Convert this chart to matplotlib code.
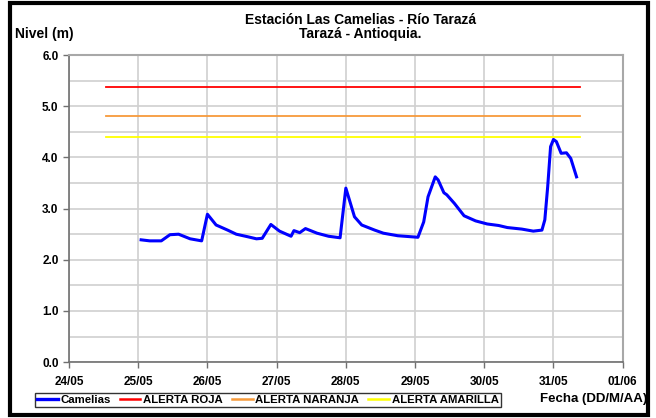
import matplotlib
matplotlib.use("Agg")
import matplotlib.pyplot as plt
import matplotlib.dates as mdates
from matplotlib.patches import Rectangle
import pandas as pd

plt.rcParams['font.family'] = ['Liberation Sans', 'DejaVu Sans']
plt.rcParams['font.weight'] = 'bold'

# ---- data ----
times = ["2008-05-25 01:00", "2008-05-25 04:00", "2008-05-25 08:00", "2008-05-25 11:00",
         "2008-05-25 14:00", "2008-05-25 18:00", "2008-05-25 22:00", "2008-05-26 00:00",
         "2008-05-26 03:00", "2008-05-26 07:00", "2008-05-26 10:00", "2008-05-26 14:00",
         "2008-05-26 17:00", "2008-05-26 19:00", "2008-05-26 22:00", "2008-05-27 01:00",
         "2008-05-27 05:00", "2008-05-27 06:00", "2008-05-27 08:00", "2008-05-27 10:00",
         "2008-05-27 14:00", "2008-05-27 18:00", "2008-05-27 22:00", "2008-05-28 00:00",
         "2008-05-28 03:00", "2008-05-28 05:30", "2008-05-28 10:00", "2008-05-28 13:00",
         "2008-05-28 18:00", "2008-05-29 01:00", "2008-05-29 03:00", "2008-05-29 04:30",
         "2008-05-29 07:00", "2008-05-29 08:00", "2008-05-29 10:00", "2008-05-29 11:00",
         "2008-05-29 13:40", "2008-05-29 17:00", "2008-05-29 21:00", "2008-05-30 01:00",
         "2008-05-30 05:00", "2008-05-30 08:00", "2008-05-30 13:00", "2008-05-30 17:00",
         "2008-05-30 20:00", "2008-05-30 21:00", "2008-05-30 22:00", "2008-05-30 23:00",
         "2008-05-31 00:00", "2008-05-31 01:00", "2008-05-31 02:40", "2008-05-31 04:30",
         "2008-05-31 06:00", "2008-05-31 08:00"]
nivel = [2.39, 2.37, 2.37, 2.49, 2.50, 2.41, 2.37, 2.89,
         2.68, 2.58, 2.50, 2.45, 2.41, 2.42, 2.69, 2.56,
         2.46, 2.57, 2.53, 2.61, 2.52, 2.46, 2.43, 3.40,
         2.84, 2.68, 2.58, 2.52, 2.47, 2.44, 2.74, 3.23,
         3.62, 3.56, 3.31, 3.27, 3.10, 2.86, 2.76, 2.70,
         2.67, 2.63, 2.60, 2.56, 2.58, 2.78, 3.43, 4.21,
         4.35, 4.31, 4.08, 4.09, 3.98, 3.62]
alert_times = ["2008-05-24 12:50", "2008-05-31 09:20"]
alerta_roja = 5.38
alerta_naranja = 4.80
alerta_amarilla = 4.40
x_ticks = pd.date_range("2008-05-24", "2008-06-01", freq="D")

t = pd.to_datetime(times)
ta = pd.to_datetime(alert_times)

fig = plt.figure(figsize=(6.56, 4.18), dpi=100)
ax = fig.add_axes([0.1052, 0.1335, 0.8440, 0.7349])

l_cam, = ax.plot(t, nivel, color='#0000FF', lw=2.2, label='Camelias', zorder=5)
l_roja, = ax.plot(ta, [alerta_roja] * 2, color='#FF0000', lw=1.3, label='ALERTA ROJA')
l_nar, = ax.plot(ta, [alerta_naranja] * 2, color='#F79A3A', lw=1.3, label='ALERTA NARANJA')
l_ama, = ax.plot(ta, [alerta_amarilla] * 2, color='#FFFF00', lw=1.3, label='ALERTA AMARILLA')

ax.set_xlim(x_ticks[0], x_ticks[-1])
ax.set_ylim(0, 6)
ax.set_xticks(x_ticks)
ax.xaxis.set_major_formatter(mdates.DateFormatter('%d/%m'))
ax.set_yticks([0, 1, 2, 3, 4, 5, 6])
ax.set_yticks([0.5, 1.5, 2.5, 3.5, 4.5, 5.5], minor=True)
ax.yaxis.set_major_formatter(matplotlib.ticker.FormatStrFormatter('%.1f'))
ax.grid(True, which='both', color='#D0D0D0', lw=1.2)
ax.set_axisbelow(True)
ax.tick_params(axis='both', which='major', labelsize=8.5, length=4, width=1, color='#707070')
ax.tick_params(axis='y', which='minor', length=0)
ax.tick_params(axis='x', pad=6)
for lab in ax.get_xticklabels() + ax.get_yticklabels():
    lab.set_fontweight('bold')
for s in ['left', 'bottom']:
    ax.spines[s].set_color('#707070')
    ax.spines[s].set_linewidth(1.2)
for s in ['top', 'right']:
    ax.spines[s].set_color('#A8A8A8')
    ax.spines[s].set_linewidth(1.5)

fig.text(0.549, 0.953, 'Estación Las Camelias - Río Tarazá', ha='center', va='center',
         fontsize=10, fontweight='bold')
fig.text(0.549, 0.919, 'Tarazá - Antioquia.', ha='center', va='center',
         fontsize=10, fontweight='bold')
fig.text(0.023, 0.919, 'Nivel (m)', ha='left', va='center', fontsize=10, fontweight='bold')
fig.text(0.986, 0.045, 'Fecha (DD/M/AA)', ha='right', va='center', fontsize=9.5, fontweight='bold')

leg = fig.legend(handles=[l_cam, l_roja, l_nar, l_ama], loc='center left',
                 bbox_to_anchor=(0.053, 0.043), ncol=4, frameon=True, fancybox=False,
                 edgecolor='black', fontsize=8.2, handlelength=1.8, handletextpad=0.25,
                 columnspacing=0.8, borderpad=0.2, borderaxespad=0)
leg.get_frame().set_linewidth(1.0)
for txt in leg.get_texts():
    txt.set_fontweight('bold')
leg.legend_handles[0].set_linewidth(2.4)
for h in leg.legend_handles[1:]:
    h.set_linewidth(1.8)

fig.patches.append(Rectangle((0.016, 0.008), 0.972, 0.985, transform=fig.transFigure,
                             fill=False, ec='black', lw=3))

fig.savefig('out.png', dpi=100)
